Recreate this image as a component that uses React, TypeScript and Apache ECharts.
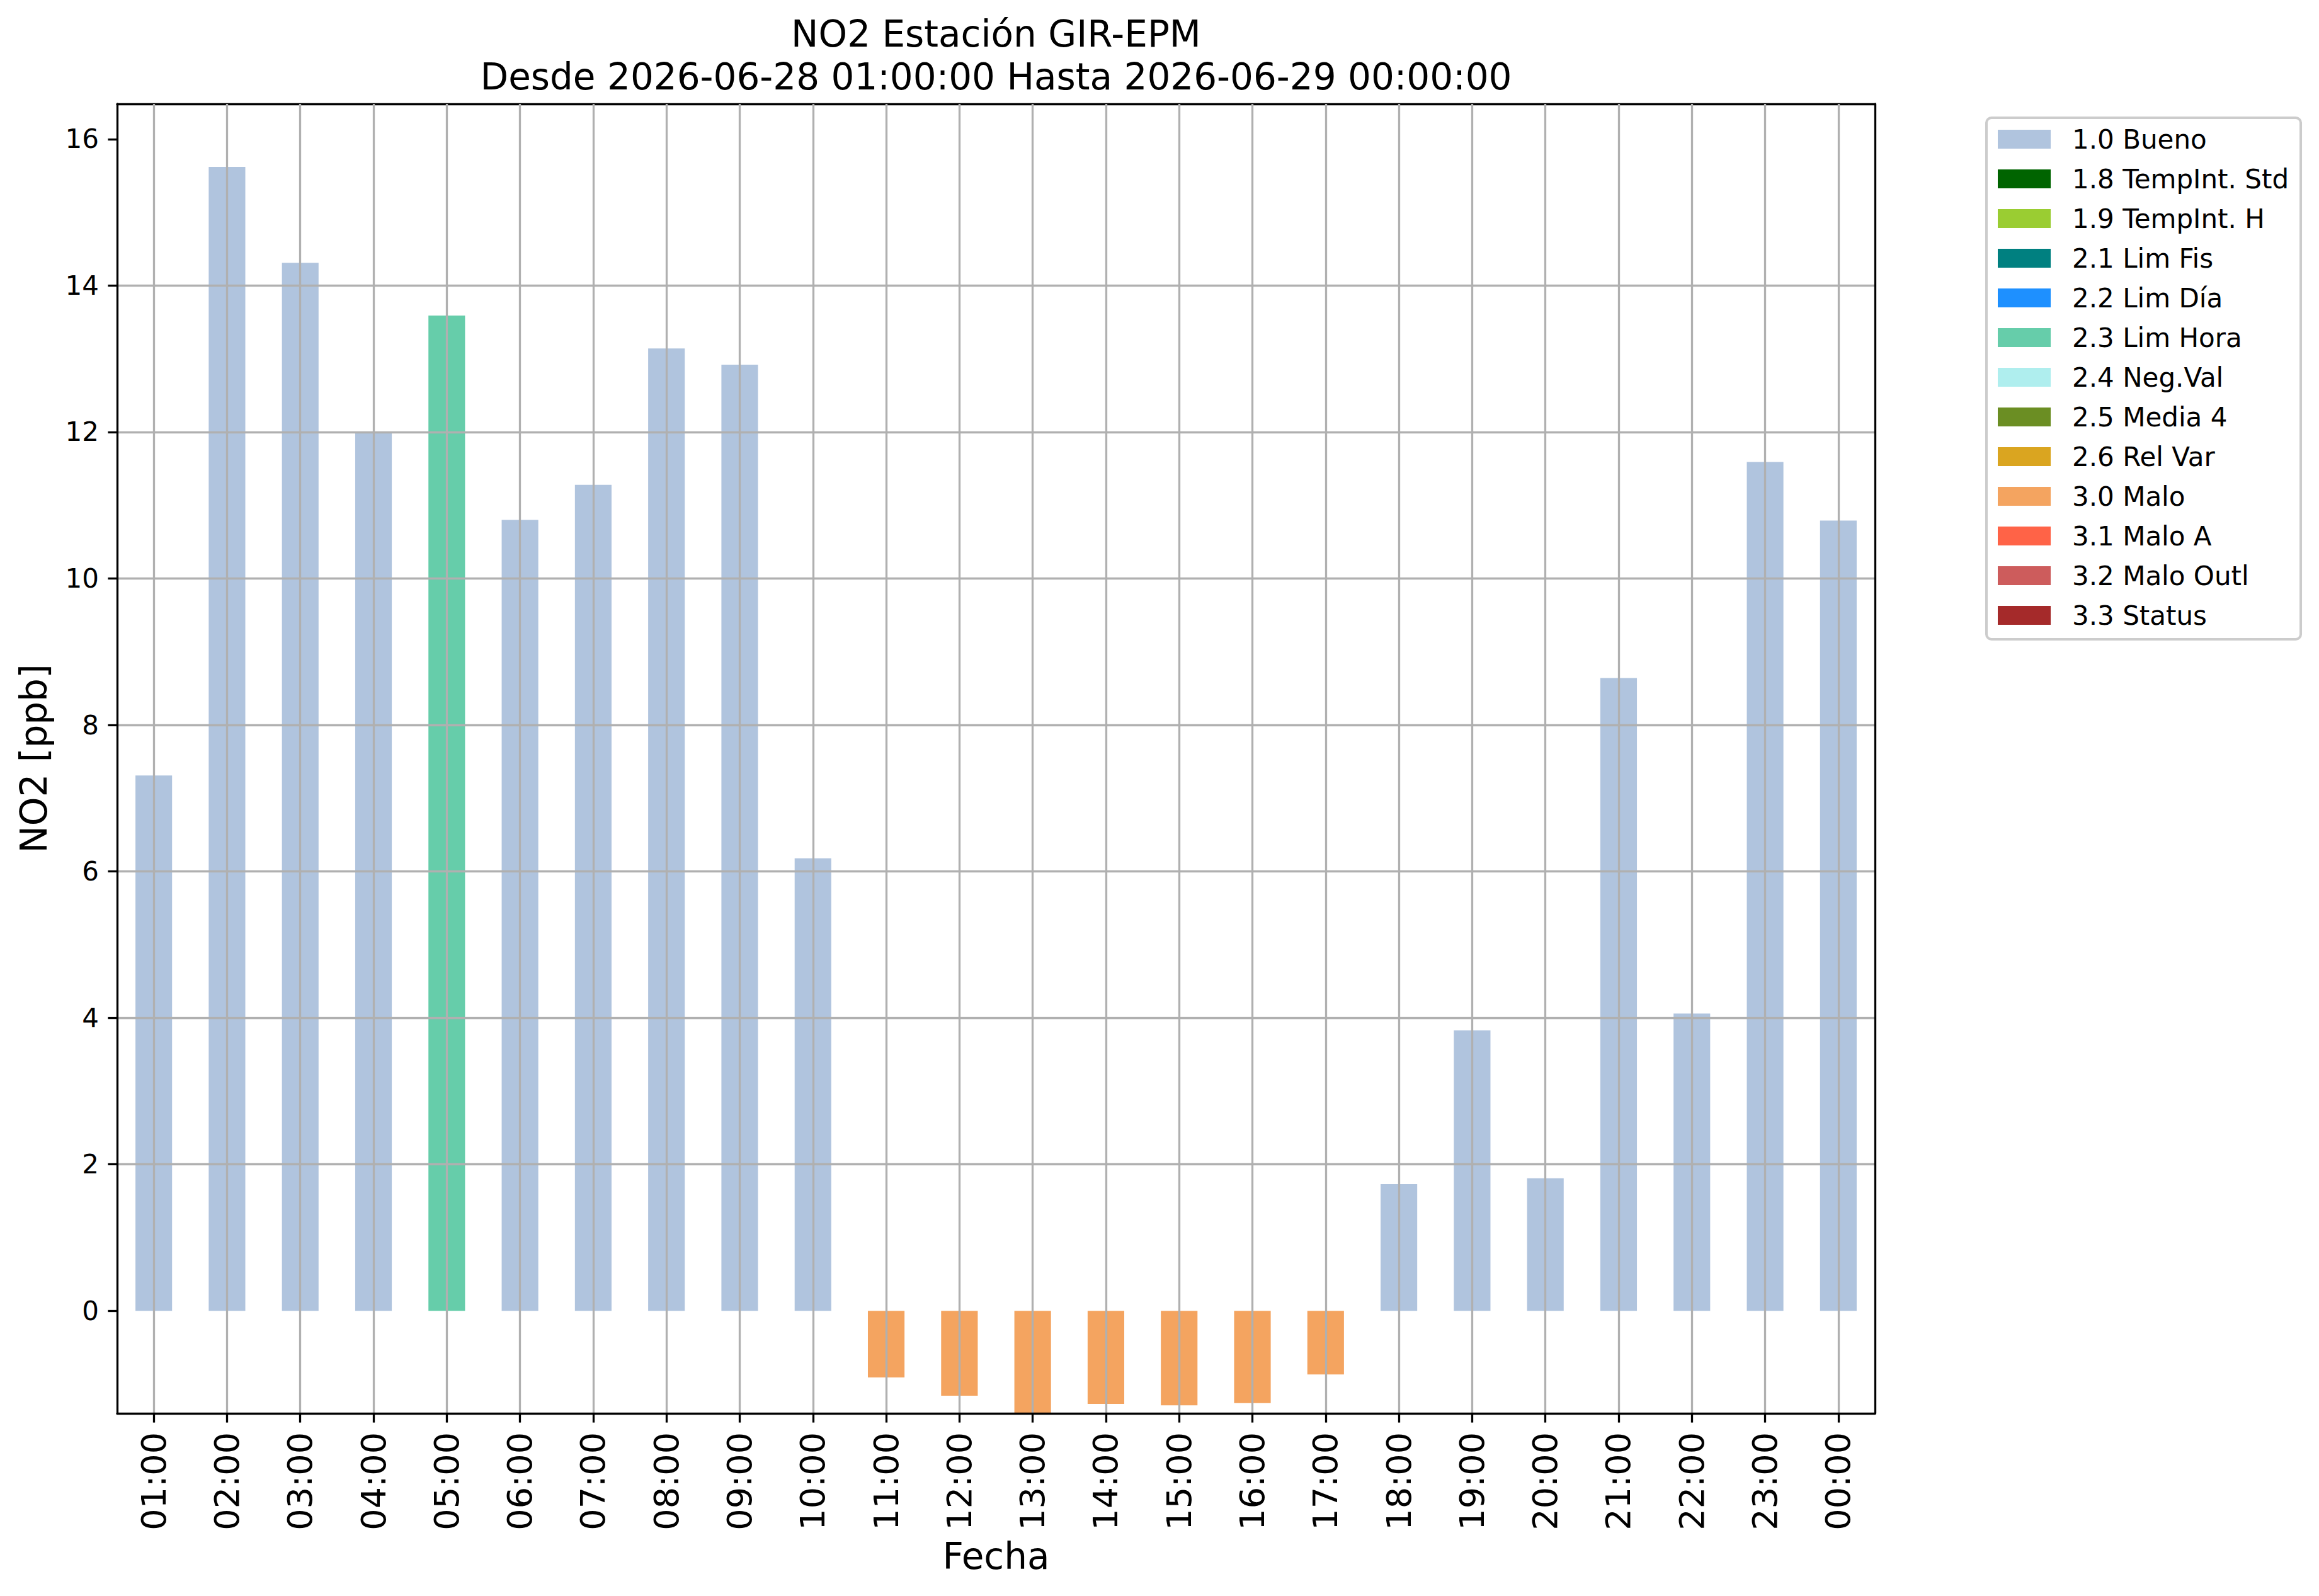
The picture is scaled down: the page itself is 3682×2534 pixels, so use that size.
import React, { useEffect, useRef } from "react";
import * as echarts from "echarts";

const hours = [
  "01:00", "02:00", "03:00", "04:00", "05:00", "06:00", "07:00", "08:00",
  "09:00", "10:00", "11:00", "12:00", "13:00", "14:00", "15:00", "16:00",
  "17:00", "18:00", "19:00", "20:00", "21:00", "22:00", "23:00", "00:00",
];

const no2Values = [
  7.31, 15.62, 14.31, 12.0, 13.59, 10.8, 11.28, 13.14,
  12.92, 6.18, -0.91, -1.16, -1.4, -1.27, -1.29, -1.26,
  -0.87, 1.73, 3.83, 1.81, 8.64, 4.06, 11.59, 10.79,
];

const flagOfHour = [
  "1.0 Bueno", "1.0 Bueno", "1.0 Bueno", "1.0 Bueno", "2.3 Lim Hora", "1.0 Bueno", "1.0 Bueno", "1.0 Bueno",
  "1.0 Bueno", "1.0 Bueno", "3.0 Malo", "3.0 Malo", "3.0 Malo", "3.0 Malo", "3.0 Malo", "3.0 Malo",
  "3.0 Malo", "1.0 Bueno", "1.0 Bueno", "1.0 Bueno", "1.0 Bueno", "1.0 Bueno", "1.0 Bueno", "1.0 Bueno",
];

const flagNames = [
  "1.0 Bueno", "1.8 TempInt. Std", "1.9 TempInt. H", "2.1 Lim Fis", "2.2 Lim Día",
  "2.3 Lim Hora", "2.4 Neg.Val", "2.5 Media 4", "2.6 Rel Var", "3.0 Malo",
  "3.1 Malo A", "3.2 Malo Outl", "3.3 Status",
];

const flagColors = [
  "#B0C4DE", "#006400", "#9ACD32", "#008080", "#1E90FF",
  "#66CDAA", "#AFEEEE", "#6B8E23", "#DAA520", "#F4A460",
  "#FF6347", "#CD5C5C", "#A52A2A",
];

const yTicks = [0, 2, 4, 6, 8, 10, 12, 14, 16];
const yMin = -1.4;
const yMax = 16.48;

const titleText = "NO2 Estación GIR-EPM\nDesde 2026-06-28 01:00:00 Hasta 2026-06-29 00:00:00";
const xName = "Fecha";
const yName = "NO2 [ppb]";

const FONT = "DejaVu Sans";

export default function App() {
  const ref = useRef<HTMLDivElement>(null);

  useEffect(() => {
    if (!ref.current) return;
    const chart = echarts.init(ref.current, undefined, { renderer: "svg" });

    const gridLeft = 186;
    const gridTop = 165;
    const gridW = 2791;
    const gridH = 2079;
    const lw = 3.3;

    const series: any[] = flagNames.map((name, k) => ({
      name,
      type: "bar",
      stack: "flags",
      xAxisIndex: 0,
      yAxisIndex: 0,
      barWidth: "50%",
      itemStyle: { color: flagColors[k] },
      data: no2Values.map((v, i) => (flagOfHour[i] === name ? v : null)),
      z: 2,
    }));

    chart.setOption({
      animation: false,
      backgroundColor: "#ffffff",
      title: {
        text: titleText,
        left: gridLeft + gridW / 2,
        top: 20,
        padding: 0,
        textAlign: "center",
        textStyle: {
          fontFamily: FONT,
          fontSize: 58,
          fontWeight: "normal",
          color: "#000000",
          lineHeight: 68,
        },
      },
      legend: {
        orient: "vertical",
        left: 3154,
        top: 187,
        padding: [13, 19, 17, 18],
        itemWidth: 84,
        itemHeight: 30,
        itemGap: 21,
        icon: "rect",
        borderColor: "#cccccc",
        borderWidth: 4,
        borderRadius: 8,
        backgroundColor: "#ffffff",
        selectedMode: false,
        data: flagNames,
        textStyle: {
          fontFamily: FONT,
          fontSize: 42,
          color: "#000000",
          padding: [0, 0, 0, 29],
        },
      },
      grid: {
        left: gridLeft,
        top: gridTop,
        width: gridW,
        height: gridH,
        containLabel: false,
      },
      xAxis: [
        {
          type: "category",
          data: hours,
          position: "bottom",
          boundaryGap: true,
          z: 4,
          name: xName,
          nameLocation: "middle",
          nameGap: 198,
          nameTextStyle: { fontFamily: FONT, fontSize: 58, color: "#000000" },
          axisLine: { show: true, onZero: false, lineStyle: { color: "#000000", width: lw } },
          axisTick: { show: true, alignWithLabel: true, length: 14.6, lineStyle: { color: "#000000", width: lw } },
          axisLabel: {
            show: true,
            interval: 0,
            rotate: 90,
            margin: 30,
            fontFamily: FONT,
            fontSize: 54,
            color: "#000000",
          },
          splitLine: { show: false },
        },
        {
          type: "category",
          data: hours,
          position: "top",
          boundaryGap: true,
          z: 3,
          axisLine: { show: true, onZero: false, lineStyle: { color: "#000000", width: lw } },
          axisTick: {
            show: true,
            inside: true,
            alignWithLabel: true,
            length: gridH,
            lineStyle: { color: "#b0b0b0", width: lw },
          },
          axisLabel: { show: false },
          splitLine: { show: false },
        },
      ],
      yAxis: [
        {
          type: "value",
          min: yMin,
          max: yMax,
          position: "left",
          z: 3,
          name: yName,
          nameLocation: "middle",
          nameGap: 103,
          nameRotate: 90,
          nameTextStyle: { fontFamily: FONT, fontSize: 58, color: "#000000" },
          axisLine: { show: true, onZero: false, lineStyle: { color: "#000000", width: lw } },
          axisTick: {
            show: true,
            length: 14.6,
            customValues: yTicks,
            lineStyle: { color: "#000000", width: lw },
          },
          axisLabel: {
            show: true,
            margin: 29,
            customValues: yTicks,
            fontFamily: FONT,
            fontSize: 42,
            color: "#000000",
          },
          splitLine: {
            show: true,
            showMinLine: false,
            showMaxLine: false,
            lineStyle: { color: "#b0b0b0", width: lw },
          },
        },
        {
          type: "value",
          min: yMin,
          max: yMax,
          position: "right",
          z: 4,
          axisLine: { show: true, onZero: false, lineStyle: { color: "#000000", width: lw } },
          axisTick: { show: false },
          axisLabel: { show: false },
          splitLine: { show: false },
        },
      ],
      series,
    });

    return () => {
      chart.dispose();
    };
  }, []);

  return (
    <div
      ref={ref}
      style={{ position: "absolute", left: 0, top: 0, width: 3682, height: 2534, background: "#ffffff" }}
    />
  );
}
